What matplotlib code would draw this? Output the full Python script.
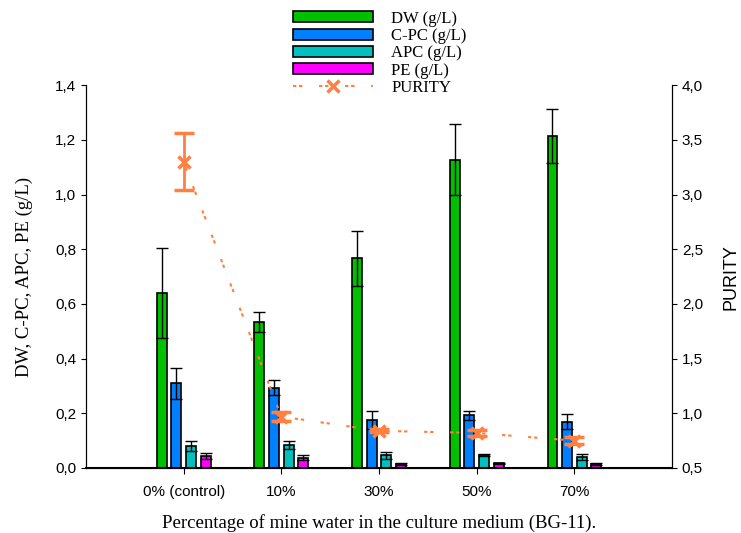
import numpy as np
import matplotlib
matplotlib.use("Agg")
import matplotlib.pyplot as plt
from matplotlib.lines import Line2D
from matplotlib.patches import Patch

categories = ['0% (control)', '10%', '30%', '50%', '70%']

dw = [0.641, 0.535, 0.767, 1.127, 1.214]
dw_err = [0.165, 0.036, 0.10, 0.13, 0.10]
cpc = [0.310, 0.294, 0.174, 0.193, 0.169]
cpc_err = [0.057, 0.027, 0.033, 0.017, 0.028]
apc = [0.079, 0.084, 0.046, 0.048, 0.041]
apc_err = [0.018, 0.016, 0.014, 0.004, 0.011]
pe = [0.043, 0.038, 0.015, 0.017, 0.015]
pe_err = [0.010, 0.008, 0.003, 0.003, 0.003]

purity = [3.30, 0.97, 0.84, 0.82, 0.75]
purity_err = [0.26, 0.04, 0.015, 0.03, 0.03]

colors = ['#00C000', '#0080FF', '#00C0C0', '#FF00FF']
orange = '#FF8040'
labels = ['DW (g/L)', 'C-PC (g/L)', 'APC (g/L)', 'PE (g/L)']

fig = plt.figure(figsize=(7.41, 5.33), dpi=100)
ax = fig.add_axes([0.116, 0.122, 0.791, 0.718])
ax2 = ax.twinx()

x = np.arange(len(categories))
width = 0.10
step = 0.15
series = [(dw, dw_err), (cpc, cpc_err), (apc, apc_err), (pe, pe_err)]
for i, (vals, errs) in enumerate(series):
    pos = x + (i - 1.5) * step
    ax.bar(pos, vals, width, color=colors[i], edgecolor='black', linewidth=1.2, zorder=2)
    ax.errorbar(pos, vals, yerr=errs, fmt='none', ecolor='black', elinewidth=1,
                capsize=4.5, capthick=1, zorder=3)

ax.set_xlim(-1, 5)
ax.set_ylim(0, 1.4)
yt = np.arange(0, 1.41, 0.2)
ax.set_yticks(yt)
ax.set_yticklabels([f'{v:.1f}'.replace('.', ',') for v in yt], family='Liberation Sans', fontsize=11)
ax.set_xticks(x)
ax.set_xticklabels(categories, family='Liberation Sans', fontsize=11)
ax.tick_params(axis='x', length=4, pad=8)
ax.set_ylabel('DW, C-PC, APC, PE (g/L)', family='Liberation Serif', fontsize=13.5, labelpad=16)
ax.set_xlabel('Percentage of mine water in the culture medium (BG-11).',
              family='Liberation Serif', fontsize=13.5, labelpad=11)
ax.spines['top'].set_visible(False)
ax2.spines['top'].set_visible(False)
ax.spines['bottom'].set_linewidth(1.5)

dash = (0, (1.6, 1.3, 1.6, 8))
ax2.plot(x, purity, color=orange, linestyle=dash, linewidth=1.5, zorder=4)
ax2.errorbar(x, purity, yerr=purity_err, fmt='x', color=orange, ecolor=orange,
             markersize=8, markeredgewidth=2.5, elinewidth=2, capsize=7, capthick=2, zorder=5)
ax2.set_ylim(0.5, 4.0)
yt2 = np.arange(0.5, 4.01, 0.5)
ax2.set_yticks(yt2)
ax2.set_yticklabels([f'{v:.1f}'.replace('.', ',') for v in yt2], family='Liberation Sans', fontsize=11)
ax2.set_ylabel('PURITY', family='Liberation Sans', fontsize=13, labelpad=14)

handles = [Patch(facecolor=c, edgecolor='black', linewidth=1.2) for c in colors]
handles.append(Line2D([], [], color=orange, linestyle=dash, linewidth=1.5, marker='x',
                      markersize=8, markeredgewidth=2.5))
fig.legend(handles, labels + ['PURITY'], loc='upper left', bbox_to_anchor=(0.375, 1.008),
           frameon=False, prop={'family': 'Liberation Serif', 'size': 12},
           handlelength=4.8, handleheight=0.65, labelspacing=0.08, handletextpad=1.1)

fig.savefig('out.png', dpi=100)
